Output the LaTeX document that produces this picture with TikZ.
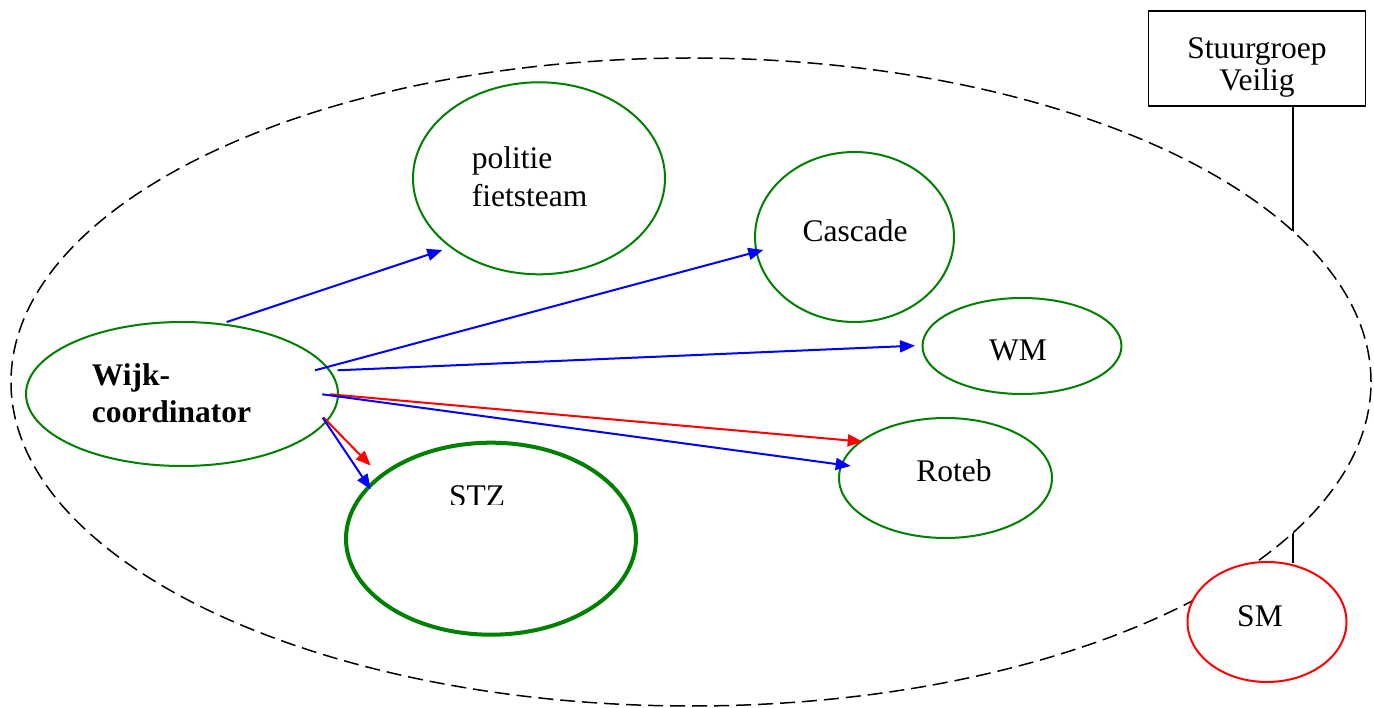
\documentclass[tikz,border=0pt]{standalone}
\usepackage{fontspec}
\setmainfont{Liberation Serif}
\usetikzlibrary{shapes.geometric,arrows.meta}
\definecolor{wgreen}{RGB}{0,128,0}
\definecolor{wblue}{RGB}{0,0,255}
\definecolor{wred}{RGB}{255,0,0}
\tikzset{
  party/.style={ellipse, draw=wgreen, line width=2pt, fill=white,
    inner sep=0pt, outer sep=0pt},
  lbl/.style={inner sep=0pt, font=\fontsize{31.5}{36}\selectfont},
  link/.style={line width=2pt, -{Triangle[length=15pt,width=12pt]}},
}
\begin{document}
\begin{tikzpicture}[x=1pt,y=-1pt]
\useasboundingbox (0,0) rectangle (1374,708);

% steering group box and its line down to SM
\node[draw, line width=1.5pt, minimum width=217pt, minimum height=95pt,
      inner sep=0pt] (stuur) at (1257,58.3) {};
\node[lbl, anchor=base] (stuur1) at (1257,59) {Stuurgroep};
\node[lbl, anchor=base] (stuur2) at (1257,91) {Veilig};
\coordinate (lineTop) at (1293,106);
\coordinate (lineBot) at (1293,563);
\draw[line width=1.5pt] (lineTop) -- (lineBot);

% the neighbourhood area
\node[ellipse, draw, dashed, dash pattern=on 15pt off 7pt, line width=1.5pt,
      fill=white, minimum width=1360pt, minimum height=648pt, inner sep=0pt]
      (area) at (691,382) {};

% parties
\node[party, minimum width=312pt, minimum height=144pt] (wijk) at (182,394) {};
\node[party, minimum width=252pt, minimum height=192pt] (politie) at (539,178.3) {};
\node[party, minimum width=199pt, minimum height=170pt] (cascade) at (854.5,237) {};
\node[party, minimum width=199pt, minimum height=96pt] (wm) at (1022,346) {};
\node[party, minimum width=213pt, minimum height=120pt] (roteb) at (945.5,478) {};
\node[party, line width=4pt, minimum width=290pt, minimum height=192pt] (stz) at (491,538.7) {};
\node[ellipse, draw=wred, line width=2pt, fill=white, inner sep=0pt,
      minimum width=159pt, minimum height=120pt] (sm) at (1267,622) {};

% labels
\node[lbl, anchor=base west, font=\fontsize{31.5}{36}\selectfont\bfseries] (wijk1) at (91.7,386) {Wijk-};
\node[lbl, anchor=base west, font=\fontsize{31.5}{36}\selectfont\bfseries] (wijk2) at (91.7,423) {coordinator};
\node[lbl, anchor=base west] (politie1) at (471.7,169) {politie};
\node[lbl, anchor=base west] (politie2) at (471.7,206.7) {fietsteam};
\node[lbl, anchor=base] (cascadeT) at (855,241.7) {Cascade};
\node[lbl, anchor=base] (wmT) at (1018,360.7) {WM};
\node[lbl, anchor=base] (rotebT) at (954,481.7) {Roteb};
\begin{scope}
  \clip (420,470) rectangle (540,504.5);
  \node[lbl, anchor=base] (stzT) at (477,506) {STZ};
\end{scope}
\node[lbl, anchor=base] (smT) at (1260,626) {SM};

% connector end points
\coordinate (wA) at (226.7,322);
\coordinate (wB) at (315,370.3);
\coordinate (wC) at (337.7,370.3);
\coordinate (wD) at (330,394.3);
\coordinate (wE) at (322.3,394.3);
\coordinate (wF) at (323.3,417.3);
\coordinate (wG) at (322.7,417.7);
\coordinate (pA) at (442.3,250);
\coordinate (cA) at (763.3,250);
\coordinate (mA) at (915,345.7);
\coordinate (rA) at (862.7,441.7);
\coordinate (rB) at (850.7,466);
\coordinate (sA) at (370.7,465.7);
\coordinate (sB) at (370.7,489.3);

% connectors
\draw[link, wblue] (wA) -- (pA);
\draw[link, wblue] (wB) -- (cA);
\draw[link, wblue] (wC) -- (mA);
\draw[link, wred] (wD) -- (rA);
\draw[link, wblue] (wE) -- (rB);
\draw[link, wred] (wF) -- (sA);
\draw[link, wblue] (wG) -- (sB);
\end{tikzpicture}
\end{document}
